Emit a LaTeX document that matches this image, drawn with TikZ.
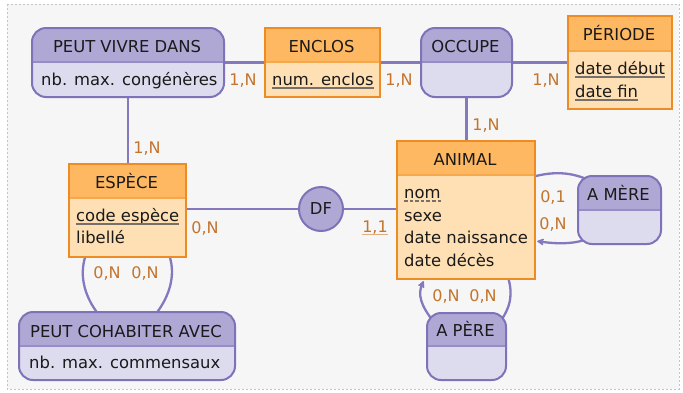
\documentclass[tikz,border=0pt]{standalone}
\usepackage{fontspec}
\setmainfont{DejaVu Sans}
\usetikzlibrary{arrows.meta,calc}
\pgfdeclarelayer{bg}
\pgfdeclarelayer{edges}
\pgfsetlayers{bg,edges,main}
\definecolor{entB}{HTML}{EE8B22}
\definecolor{entH}{HTML}{FFB862}
\definecolor{entF}{HTML}{FFE0B4}
\definecolor{entD}{HTML}{F6A84C}
\definecolor{relB}{HTML}{7E72B8}
\definecolor{relH}{HTML}{B0A8D4}
\definecolor{relF}{HTML}{DDDBEE}
\definecolor{relD}{HTML}{978CC6}
\definecolor{linkC}{HTML}{8478BE}
\definecolor{cardC}{HTML}{C4742C}
\definecolor{txtC}{HTML}{1A1A1A}
\definecolor{ulC}{HTML}{77706A}
\definecolor{ulL}{HTML}{DDAE80}
\definecolor{pageC}{HTML}{F6F6F6}
\definecolor{frameC}{HTML}{C4C4C4}
\tikzset{
  ent/.style={draw=entB, fill=entF, line width=2pt, inner sep=0pt, anchor=north west},
  rel/.style={draw=relB, fill=relF, line width=2pt, rounded corners=14pt, inner sep=0pt, anchor=north west},
  txt/.style={text=txtC, font=\fontsize{16.4}{20}\selectfont, inner sep=0pt},
  ttl/.style={txt, anchor=base},
  att/.style={txt, anchor=base west},
  card/.style={text=cardC, font=\fontsize{16}{19}\selectfont, inner sep=0pt, anchor=base},
  link/.style={draw=linkC, line width=2.3pt},
  tip/.style={-{Stealth[length=9pt,width=9pt,inset=3.5pt,round]}, shorten >=1.2pt},
  idline/.style={draw=ulC, line width=2pt},
  weakline/.style={draw=ulC, line width=1.8pt, dash pattern=on 3.6pt off 2pt},
  cardline/.style={draw=ulL, line width=1.6pt},
}
\newcommand\mkbox[7]{%
  \node[#1, minimum width={(#5-#3)*1pt}, minimum height={(#6-#4)*1pt},
    path picture={
      \fill[#1H, sharp corners] (path picture bounding box.north west) rectangle ([yshift={-(#7-#4)*1pt}]path picture bounding box.north east);
      \draw[#1D, line width=1.2pt, sharp corners] ([yshift={-(#7-#4)*1pt}]path picture bounding box.north west) -- ([yshift={-(#7-#4)*1pt}]path picture bounding box.north east);
    }] (#2) at (#3,#4) {};}
\newcommand\ulnode[2]{\draw[#1] ([yshift=-3.3pt]#2.base west) -- ([yshift=-3.3pt]#2.base east);}
\begin{document}
\begin{tikzpicture}[x=1pt, y=-1pt]
\useasboundingbox (0,0) rectangle (683,392);
\begin{pgfonlayer}{bg}
  \fill[pageC] (7,4) rectangle (679,389);
  \draw[frameC, line width=1pt, dash pattern=on 2pt off 2pt] (7,4) rectangle (679,389);
\end{pgfonlayer}

% boxes
\mkbox{rel}{pvd}{31}{27}{223}{96}{61}
\mkbox{ent}{enclos}{264}{27}{379}{96}{61}
\mkbox{rel}{occupe}{420}{27}{511}{96}{61}
\mkbox{ent}{periode}{567}{15}{671}{108}{50}
\mkbox{ent}{espece}{68}{163}{185}{256}{197}
\mkbox{ent}{animal}{396}{140}{534}{278}{174}
\mkbox{rel}{amere}{577}{175}{660}{243}{209}
\mkbox{rel}{apere}{426}{312}{505}{379}{345}
\mkbox{rel}{cohab}{18}{311}{234}{379}{345}
\node[txt, circle, draw=relB, fill=relH, line width=2pt, minimum size=44pt] (df) at (321,209) {DF};

% titles
\node[ttl] (pvdT) at (127,52) {PEUT VIVRE DANS};
\node[ttl] (enclosT) at (321.5,52) {ENCLOS};
\node[ttl] (occupeT) at (465.5,52) {OCCUPE};
\node[ttl] (periodeT) at (619,40) {PÉRIODE};
\node[ttl] (especeT) at (126.5,188) {ESPÈCE};
\node[ttl] (animalT) at (465,165) {ANIMAL};
\node[ttl] (amereT) at (618.5,200) {A MÈRE};
\node[ttl] (apereT) at (465.5,336) {A PÈRE};
\node[ttl] (cohabT) at (126,337) {PEUT COHABITER AVEC};

% attributes
\node[att] (pvdA) at (41,85) {nb. max. congénères};
\node[att] (enclosA) at (272,85) {num. enclos};
\node[att] (periodeA) at (575,74) {date début};
\node[att] (periodeB) at (575,97) {date fin};
\node[att] (especeA) at (76,221) {code espèce};
\node[att] (especeB) at (76,243.5) {libellé};
\node[att] (animalA) at (404,198) {nom};
\node[att] (animalB) at (404,221) {sexe};
\node[att] (animalC) at (404,243.5) {date naissance};
\node[att] (animalD) at (404,266) {date décès};
\node[att] (cohabA) at (29,368) {nb. max. commensaux};
\ulnode{idline}{enclosA}
\ulnode{idline}{periodeA}
\ulnode{idline}{periodeB}
\ulnode{idline}{especeA}
\ulnode{weakline}{animalA}

% cardinalities
\node[card] (c1) at (243,85) {1,N};
\node[card] (c2) at (147,153) {1,N};
\node[card] (c3) at (399,85) {1,N};
\node[card] (c4) at (546,85) {1,N};
\node[card] (c5) at (486,130) {1,N};
\node[card] (c6) at (205,233) {0,N};
\node[card] (c7) at (375,232) {1,1};
\node[card] (c8) at (107,278) {0,N};
\node[card] (c9) at (145,278) {0,N};
\node[card] (c10) at (553,202) {0,1};
\node[card] (c11) at (553,229) {0,N};
\node[card] (c12) at (446,301) {0,N};
\node[card] (c13) at (483,301) {0,N};
\draw[cardline] ([yshift=-2.4pt]c7.base west) -- ([yshift=-2.4pt]c7.base east);

% connectors
\begin{pgfonlayer}{edges}
  \draw[link] (pvd) -- (enclos);
  \draw[link] (enclos) -- (occupe);
  \draw[link] (occupe) -- (periode);
  \draw[link] (pvd.south) -- (pvd.south |- espece.north);
  \draw[link] (occupe.south) -- (occupe.south |- animal.north);
  \draw[link] (espece.east |- df.west) -- (df.west);
  \draw[link] (df.east) -- (df.east -| animal.west);
  % reflexive: peut cohabiter avec
  \draw[link] ($(espece.south)+(-40.5,-6)$) .. controls ($(espece.south)+(-49,14)$) and ($(cohab.north)+(-44,-16)$) .. ($(cohab.north)+(-28,4)$);
  \draw[link] ($(espece.south)+(40.5,-6)$) .. controls ($(espece.south)+(49,14)$) and ($(cohab.north)+(44,-16)$) .. ($(cohab.north)+(28,4)$);
  % a mere
  \draw[link] ($(animal.north east)+(-4,37)$) .. controls ($(animal.north east)+(18,31)$) and ($(amere.north west)+(-2,-4)$) .. ($(amere.north west)+(21,10)$);
  \draw[link, tip] ($(amere.north west)+(18,60)$) .. controls ($(amere.north west)+(3,70)$) and ($(animal.north east)+(21,104)$) .. ($(animal.north east)+(0,101)$);
  % a pere
  \draw[link, tip] ($(apere.north west)+(8,10)$) .. controls ($(apere.north west)+(-6,-7)$) and ($(animal.south west)+(22,14)$) .. ($(animal.south west)+(28,0)$);
  \draw[link] ($(animal.south east)+(-29,-6)$) .. controls ($(animal.south east)+(-23,12)$) and ($(apere.north east)+(5,-7)$) .. ($(apere.north east)+(-7,10)$);
\end{pgfonlayer}
\end{tikzpicture}
\end{document}
